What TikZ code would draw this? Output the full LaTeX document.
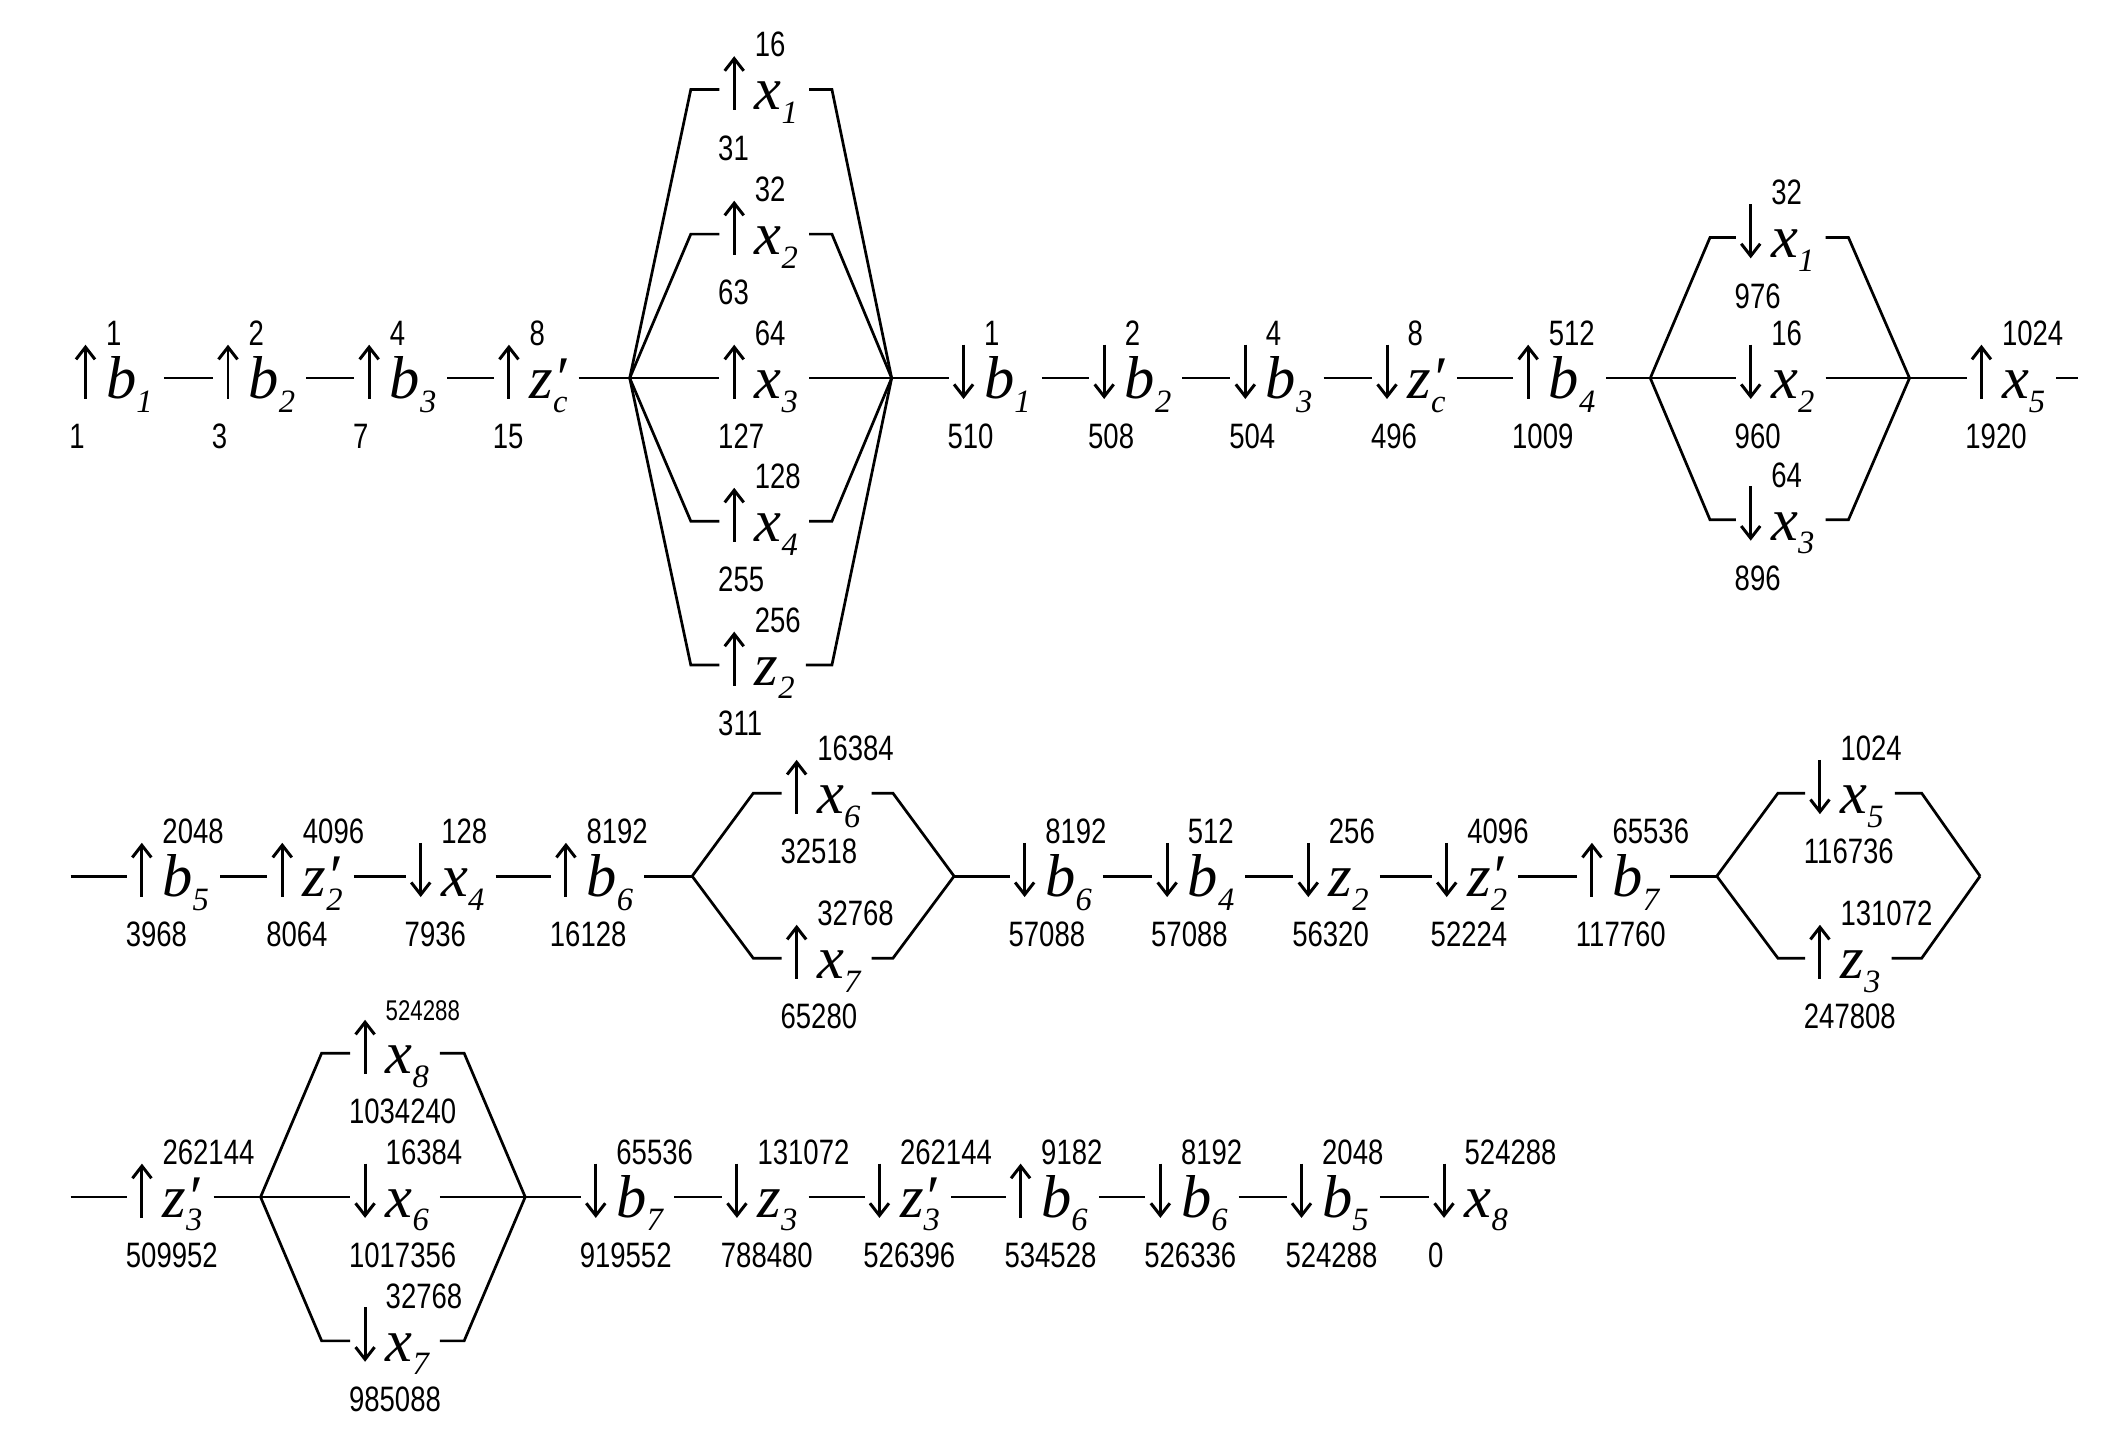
\documentclass[tikz,border=0pt]{standalone}
\usepackage{fontspec}
\setmainfont{Liberation Serif}
\newfontfamily\numfam{Liberation Sans}[FakeStretch=0.78]
\usetikzlibrary{arrows.meta}
\newcommand\LF{\fontsize{44.6pt}{50pt}\selectfont\itshape}
\newcommand\NF{\numfam\fontsize{26pt}{28pt}\selectfont}
\newcommand\SNF{\numfam\fontsize{21pt}{23pt}\selectfont}
\newcommand\sbs[1]{\raisebox{-10pt}{\fontsize{24pt}{26pt}\selectfont\itshape #1}}
\newcommand\vb[1]{b\sbs{#1}}
\newcommand\vx[1]{x\sbs{#1}}
\newcommand\vz[1]{z\sbs{#1}}
\newcommand\vzp[1]{z\rlap{′}\sbs{#1}}
\tikzset{
 conn/.style={line width=2pt},
 au/.style={line width=2.2pt, {Straight Barb[length=9pt,width=14pt]}-},
 ad/.style={line width=2.2pt, -{Straight Barb[length=9pt,width=14pt]}},
 lett/.style={anchor=base west, inner sep=0pt, font=\LF},
 numt/.style={anchor=base west, inner sep=0pt, font=\NF},
 numb/.style={anchor=base west, inner sep=0pt, font=\NF},
}
\newcommand\El[7]{%
 \coordinate (#1) at (#2,#3);
 \coordinate (#1in) at ([xshift=-11pt]#1);
 \node[lett] (#1l) at ([xshift=15pt,yshift=-15pt]#1) {#5};
 \path (#1l.east |- #1) ++(8pt,0) coordinate (#1out);
 \draw[#4] ([yshift=24.6pt]#1) -- ([yshift=-15.4pt]#1);
 \node[numt] (#1t) at ([xshift=15pt,yshift=24pt]#1) {#6};
 \node[numb] (#1b) at ([xshift=-12pt,yshift=-52pt]#1) {#7};
}
\def\Ya{278.6}
\def\Yb{645.6}
\def\Yc{882}
\begin{document}
\begin{tikzpicture}[x=1pt,y=-1pt]
\fill[white] (0,0) rectangle (1568,1070);
\useasboundingbox (0,0) rectangle (1568,1070);
% ---------- Row 1 ----------
\El{a1}{63}{\Ya}{au}{\vb{1}}{1}{1}
\El{a2}{168}{\Ya}{au}{\vb{2}}{2}{3}
\El{a3}{272}{\Ya}{au}{\vb{3}}{4}{7}
\El{a4}{375}{\Ya}{au}{\vzp{c}}{8}{15}
\coordinate (L1) at (464,\Ya);
\coordinate (R1) at (657,\Ya);
\El{d1}{541}{66}{au}{\vx{1}}{16}{31}
\El{d2}{541}{172.5}{au}{\vx{2}}{32}{63}
\El{d3}{541}{\Ya}{au}{\vx{3}}{64}{127}
\El{d4}{541}{384}{au}{\vx{4}}{128}{255}
\El{d5}{541}{490}{au}{\vz{2}}{256}{311}
\foreach \n/\yy in {d1/66,d2/172.5,d4/384,d5/490}{
  \coordinate (\n cl) at (509,\yy);
  \coordinate (\n cr) at (613,\yy);
  \draw[conn] (L1) -- (\n cl) -- (\n in);
  \draw[conn] (\n out) -- (\n cr) -- (R1);
}
\draw[conn] (L1) -- (d3in);
\draw[conn] (d3out) -- (R1);
\El{a5}{710}{\Ya}{ad}{\vb{1}}{1}{510}
\El{a6}{813.6}{\Ya}{ad}{\vb{2}}{2}{508}
\El{a7}{917.6}{\Ya}{ad}{\vb{3}}{4}{504}
\El{a8}{1022}{\Ya}{ad}{\vzp{c}}{8}{496}
\El{a9}{1126}{\Ya}{au}{\vb{4}}{512}{1009}
\coordinate (L2) at (1216,\Ya);
\coordinate (R2) at (1407,\Ya);
\El{e1}{1290}{175}{ad}{\vx{1}}{32}{976}
\El{e2}{1290}{\Ya}{ad}{\vx{2}}{16}{960}
\El{e3}{1290}{383}{ad}{\vx{3}}{64}{896}
\foreach \n/\yy in {e1/175,e3/383}{
  \coordinate (\n cl) at (1260,\yy);
  \coordinate (\n cr) at (1362,\yy);
  \draw[conn] (L2) -- (\n cl) -- (\n in);
  \draw[conn] (\n out) -- (\n cr) -- (R2);
}
\draw[conn] (L2) -- (e2in);
\draw[conn] (e2out) -- (R2);
\El{a10}{1460}{\Ya}{au}{\vx{5}}{1024}{1920}
\coordinate (end1) at (1531,\Ya);
\draw[conn] (a1out) -- (a2in);
\draw[conn] (a2out) -- (a3in);
\draw[conn] (a3out) -- (a4in);
\draw[conn] (a4out) -- (L1);
\draw[conn] (R1) -- (a5in);
\draw[conn] (a5out) -- (a6in);
\draw[conn] (a6out) -- (a7in);
\draw[conn] (a7out) -- (a8in);
\draw[conn] (a8out) -- (a9in);
\draw[conn] (a9out) -- (L2);
\draw[conn] (R2) -- (a10in);
\draw[conn] (a10out) -- (end1);
% ---------- Row 2 ----------
\coordinate (s2) at (52,\Yb);
\El{b1}{104.5}{\Yb}{au}{\vb{5}}{2048}{3968}
\El{b2}{208}{\Yb}{au}{\vzp{2}}{4096}{8064}
\El{b3}{310}{\Yb}{ad}{\vx{4}}{128}{7936}
\El{b4}{417}{\Yb}{au}{\vb{6}}{8192}{16128}
\coordinate (L3) at (510,\Yb);
\coordinate (R3) at (703,\Yb);
\El{f1}{587}{584.5}{au}{\vx{6}}{16384}{32518}
\El{f2}{587}{706}{au}{\vx{7}}{32768}{65280}
\foreach \n/\yy in {f1/584.5,f2/706}{
  \coordinate (\n cl) at (555,\yy);
  \coordinate (\n cr) at (658,\yy);
  \draw[conn] (L3) -- (\n cl) -- (\n in);
  \draw[conn] (\n out) -- (\n cr) -- (R3);
}
\El{b5}{755}{\Yb}{ad}{\vb{6}}{8192}{57088}
\El{b6}{860}{\Yb}{ad}{\vb{4}}{512}{57088}
\El{b7}{964}{\Yb}{ad}{\vz{2}}{256}{56320}
\El{b8}{1066}{\Yb}{ad}{\vzp{2}}{4096}{52224}
\El{b9}{1173}{\Yb}{au}{\vb{7}}{65536}{117760}
\coordinate (L4) at (1265,\Yb);
\coordinate (R4) at (1459,\Yb);
\El{g1}{1341}{584.5}{ad}{\vx{5}}{1024}{116736}
\El{g2}{1341}{706}{au}{\vz{3}}{131072}{247808}
\foreach \n/\yy in {g1/584.5,g2/706}{
  \coordinate (\n cl) at (1310,\yy);
  \coordinate (\n cr) at (1416,\yy);
  \draw[conn] (L4) -- (\n cl) -- (\n in);
  \draw[conn] (\n out) -- (\n cr) -- (R4);
}
\draw[conn] (s2) -- (b1in);
\draw[conn] (b1out) -- (b2in);
\draw[conn] (b2out) -- (b3in);
\draw[conn] (b3out) -- (b4in);
\draw[conn] (b4out) -- (L3);
\draw[conn] (R3) -- (b5in);
\draw[conn] (b5out) -- (b6in);
\draw[conn] (b6out) -- (b7in);
\draw[conn] (b7out) -- (b8in);
\draw[conn] (b8out) -- (b9in);
\draw[conn] (b9out) -- (L4);
% ---------- Row 3 ----------
\coordinate (s3) at (52,\Yc);
\El{c1}{104.6}{\Yc}{au}{\vzp{3}}{262144}{509952}
\coordinate (L5) at (192,\Yc);
\coordinate (R5) at (387,\Yc);
\El{h1}{269}{776}{au}{\vx{8}}{\SNF 524288}{1034240}
\El{h2}{269}{\Yc}{ad}{\vx{6}}{16384}{1017356}
\El{h3}{269}{988}{ad}{\vx{7}}{32768}{985088}
\foreach \n/\yy in {h1/776,h3/988}{
  \coordinate (\n cl) at (237,\yy);
  \coordinate (\n cr) at (342,\yy);
  \draw[conn] (L5) -- (\n cl) -- (\n in);
  \draw[conn] (\n out) -- (\n cr) -- (R5);
}
\draw[conn] (L5) -- (h2in);
\draw[conn] (h2out) -- (R5);
\El{c2}{439}{\Yc}{ad}{\vb{7}}{65536}{919552}
\El{c3}{543}{\Yc}{ad}{\vz{3}}{131072}{788480}
\El{c4}{648}{\Yc}{ad}{\vzp{3}}{262144}{526396}
\El{c5}{752}{\Yc}{au}{\vb{6}}{9182}{534528}
\El{c6}{855}{\Yc}{ad}{\vb{6}}{8192}{526336}
\El{c7}{959}{\Yc}{ad}{\vb{5}}{2048}{524288}
\El{c8}{1064}{\Yc}{ad}{\vx{8}}{524288}{0}
\draw[conn] (s3) -- (c1in);
\draw[conn] (c1out) -- (L5);
\draw[conn] (R5) -- (c2in);
\draw[conn] (c2out) -- (c3in);
\draw[conn] (c3out) -- (c4in);
\draw[conn] (c4out) -- (c5in);
\draw[conn] (c5out) -- (c6in);
\draw[conn] (c6out) -- (c7in);
\draw[conn] (c7out) -- (c8in);
\end{tikzpicture}
\end{document}
